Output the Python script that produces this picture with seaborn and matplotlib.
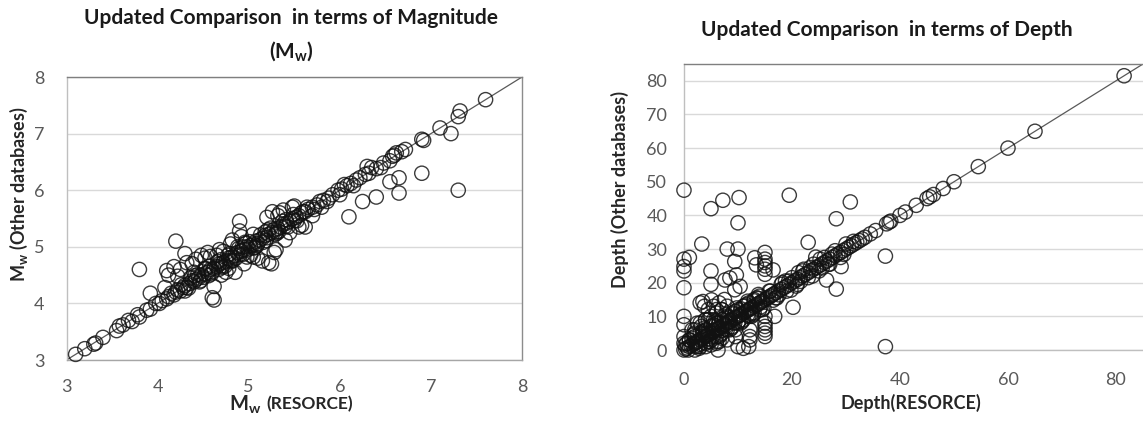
import matplotlib
matplotlib.use("Agg")
import matplotlib.pyplot as plt
import seaborn as sns
import pandas as pd

# ---------------- data: magnitude (Mw) ----------------
mw_resorce = [
    3.10, 3.20, 3.30, 3.32, 3.40, 3.55, 3.58, 3.62, 3.68, 3.72, 3.78, 3.80, 3.88, 3.92,
    3.98, 4.02, 4.05, 4.10, 4.12, 4.15, 4.18, 4.20, 4.22, 4.25, 4.28, 4.30, 4.32, 4.35,
    4.38, 4.40, 4.42, 4.45, 4.48, 4.50, 4.52, 4.55, 4.58, 4.60, 4.62, 4.65, 4.68, 4.70,
    4.72, 4.75, 4.78, 4.80, 4.82, 4.85, 4.88, 4.90, 4.92, 4.95, 4.98, 5.00, 5.02, 5.05,
    5.08, 5.10, 5.12, 5.15, 5.18, 5.20, 5.22, 5.25, 5.28, 5.30, 5.32, 5.35, 5.38, 5.40,
    5.42, 5.45, 5.48, 5.50, 5.52, 5.55, 5.58, 5.62, 5.65, 5.70, 5.75, 5.78, 5.82, 5.88,
    5.92, 5.98, 6.02, 6.08, 6.12, 6.18, 6.22, 6.28, 6.32, 6.40, 6.48, 6.55, 6.60, 6.68,
    6.72, 6.90, 6.92, 7.10, 7.30, 7.32, 7.60,
    3.80, 3.92, 4.08, 4.10, 4.12, 4.18, 4.20, 4.22, 4.25, 4.30, 4.32, 4.38, 4.42, 4.48,
    4.52, 4.55, 4.58, 4.60, 4.62, 4.62, 4.65, 4.68, 4.70, 4.72, 4.75, 4.78, 4.80, 4.82,
    4.85, 4.88, 4.90, 4.90, 4.92, 4.95, 4.98, 5.02, 5.05, 5.10, 5.15, 5.22, 5.25, 5.28,
    5.30, 5.32, 5.20, 5.26, 5.34, 5.40, 5.45, 5.48, 5.60, 5.58, 5.62, 5.70, 5.50, 5.80,
    6.00, 6.10, 6.25, 6.30, 6.40, 6.55, 6.65, 6.65, 6.58, 6.90, 7.22, 7.30, 5.38, 5.55,
    5.05, 4.40,
    4.26, 4.34, 4.41, 4.47, 4.53, 4.59, 4.66, 4.71, 4.77, 4.83, 4.89, 4.94, 5.01, 5.07,
    5.13, 5.19, 5.24, 5.31, 5.37, 5.43, 5.49, 4.30, 4.44, 4.56, 4.69, 4.81, 4.93, 5.06,
    5.18, 5.29, 5.41, 5.53, 5.64, 5.72, 5.86, 6.05, 6.15, 6.35, 6.45, 6.62,
    4.36, 4.46, 4.57, 4.67, 4.79, 4.86, 4.97, 5.09, 5.21, 5.33, 4.52, 4.74, 4.96, 5.16,
]
mw_other = [
    3.10, 3.20, 3.28, 3.30, 3.40, 3.52, 3.60, 3.62, 3.70, 3.68, 3.80, 3.76, 3.88, 3.90,
    4.00, 4.00, 4.05, 4.08, 4.12, 4.18, 4.15, 4.20, 4.24, 4.22, 4.28, 4.32, 4.28, 4.35,
    4.40, 4.38, 4.42, 4.45, 4.50, 4.46, 4.52, 4.55, 4.60, 4.56, 4.62, 4.65, 4.70, 4.66,
    4.72, 4.75, 4.80, 4.76, 4.82, 4.85, 4.90, 4.86, 4.92, 4.95, 5.00, 4.96, 5.02, 5.05,
    5.10, 5.06, 5.12, 5.15, 5.20, 5.16, 5.22, 5.25, 5.30, 5.26, 5.32, 5.35, 5.40, 5.36,
    5.42, 5.45, 5.50, 5.46, 5.52, 5.55, 5.60, 5.62, 5.66, 5.70, 5.74, 5.80, 5.82, 5.86,
    5.92, 6.00, 6.02, 6.08, 6.12, 6.18, 6.22, 6.28, 6.30, 6.38, 6.48, 6.52, 6.62, 6.68,
    6.72, 6.90, 6.88, 7.10, 7.30, 7.40, 7.60,
    4.60, 4.18, 4.28, 4.58, 4.50, 4.65, 5.10, 4.48, 4.60, 4.88, 4.72, 4.70, 4.78, 4.85,
    4.80, 4.90, 4.83, 4.10, 4.06, 4.30, 4.85, 4.95, 4.50, 4.92, 4.55, 4.62, 5.05, 5.12,
    4.55, 5.00, 5.45, 5.28, 5.18, 4.70, 4.82, 4.85, 4.82, 4.80, 4.75, 4.72, 4.70, 4.90,
    4.95, 5.55, 5.52, 5.62, 5.60, 5.12, 5.25, 5.70, 5.62, 5.38, 5.35, 5.55, 5.72, 5.70,
    5.92, 5.53, 5.80, 6.42, 5.88, 6.15, 6.22, 5.95, 6.60, 6.30, 7.00, 6.00, 5.65, 5.35,
    5.22, 4.55,
    4.33, 4.27, 4.49, 4.40, 4.61, 4.52, 4.74, 4.64, 4.85, 4.76, 4.97, 4.87, 5.09, 4.99,
    5.21, 5.11, 5.33, 5.24, 5.45, 5.35, 5.57, 4.22, 4.51, 4.49, 4.77, 4.74, 5.00, 4.98,
    5.26, 5.22, 5.48, 5.46, 5.70, 5.66, 5.80, 6.10, 6.08, 6.40, 6.40, 6.66,
    4.45, 4.38, 4.66, 4.60, 4.88, 4.80, 5.06, 5.02, 5.30, 5.27, 4.62, 4.66, 5.08, 5.08,
]

# ---------------- data: depth ----------------
depth_resorce = [
    0, 0.3, 0.6, 1, 1.3, 1.6, 2, 2.3, 2.6, 3, 3.3, 3.6, 4, 4.3, 4.6, 5, 5.3, 5.6, 6, 6.3,
    6.6, 7, 7.3, 7.6, 8, 8.3, 8.6, 9, 9.3, 9.6, 10, 10.3, 10.6, 11, 11.3, 11.6, 12, 12.3,
    12.6, 13, 13.3, 13.6, 14, 14.3, 14.6, 15, 15.3, 15.6, 16, 16.3, 16.6, 17, 17.5, 18,
    18.5, 19, 19.5, 20, 20.5, 21, 21.5, 22, 22.5, 23, 23.5, 24, 24.5, 25, 25.5, 26, 26.5,
    27, 27.5, 28, 28.5, 29, 29.5, 30, 30.5, 31, 31.5, 32, 32.5, 33, 33.5, 34.5, 35.5,
    37.5, 38, 38.3, 40, 41, 43, 45, 45.5, 46.2, 48, 50, 54.5, 60, 65, 81.5,
    1, 2, 2, 3, 3, 4, 4, 5, 5, 6, 6, 7, 7, 8, 8, 9, 9, 10, 10, 11, 11, 12, 12, 13, 13,
    14, 14, 16, 17, 18, 19, 20, 21, 22, 23, 24, 25, 26, 27, 28, 29, 30,
    0, 5, 7.2, 10.2, 19.5, 30.8, 10, 28.2, 3.3, 23, 0, 0, 0, 1, 0, 0, 0, 0, 0, 8, 10,
    15, 15, 15, 15, 15, 15, 13.1, 13.4, 16.5, 5, 5, 7.6, 8.5, 9.4, 9.7, 9.4, 10.4, 24.4,
    26.4, 28.2, 29.1, 20.2, 37.3, 37.3, 3.5, 5.1, 12.2, 12.2, 15, 15, 15, 15, 15, 15,
    16.8, 6.3, 10, 6, 12.2, 9.5, 9.5, 4, 4.5, 6, 6.5, 3, 3.8, 5.5, 2.5, 7, 8, 11, 12,
    2, 1.5,
    1.5, 2.5, 3.5, 4.5, 5.5, 6.5, 7.5, 8.5, 9.5, 10.5, 11.5, 12.5, 13.5, 14.5, 1.8, 2.8,
    3.8, 4.8, 5.8, 6.8, 7.8, 8.8, 9.8, 10.8, 11.8, 12.8, 13.8, 14.8, 4, 5, 6, 7, 8, 5,
    6, 7, 4.5, 5.5, 6.5, 7.5, 3, 4, 2, 3.2, 15.8, 17.2, 18.8, 20.8, 22.2, 23.8, 25.2,
    26.8, 16.5, 18.2, 19.8, 21.2, 1, 0.5, 0.2, 0.8,
    2.2, 3.4, 4.6, 5.8, 7.0, 8.2, 9.4, 10.6, 11.8, 13.0, 14.2, 2.9, 4.1, 5.3, 6.5, 7.7,
    8.9, 10.1, 11.3, 12.5, 13.7, 17.6, 19.4, 21.6, 23.4, 25.6, 27.4, 29.6, 31.4,
]
depth_other = [
    0, 0.3, 0.6, 1, 1.3, 1.6, 2, 2.3, 2.6, 3, 3.3, 3.6, 4, 4.3, 4.6, 5, 5.3, 5.6, 6, 6.3,
    6.6, 7, 7.3, 7.6, 8, 8.3, 8.6, 9, 9.3, 9.6, 10, 10.3, 10.6, 11, 11.3, 11.6, 12, 12.3,
    12.6, 13, 13.3, 13.6, 14, 14.3, 14.6, 15, 15.3, 15.6, 16, 16.3, 16.6, 17, 17.5, 18,
    18.5, 19, 19.5, 20, 20.5, 21, 21.5, 22, 22.5, 23, 23.5, 24, 24.5, 25, 25.5, 26, 26.5,
    27, 27.5, 28, 28.5, 29, 29.5, 30, 30.5, 31, 31.5, 32, 32.5, 33, 33.5, 34.5, 35.5,
    37.5, 38, 38.3, 40, 41, 43, 45, 45.5, 46.2, 48, 50, 54.5, 60, 65, 81.5,
    3, 0, 4, 1, 5, 2, 6, 3, 7, 4, 8, 5, 9, 6, 10, 7, 11, 8, 12, 9, 13, 10, 14, 11, 15,
    12, 16, 17.5, 15.5, 19.5, 17.5, 21.5, 19.5, 23.5, 21.5, 25.5, 23.5, 27.5, 25.5, 29.5,
    27.5, 31.5,
    47.5, 42, 44.5, 45.3, 46, 44, 37.8, 39, 31.5, 32, 27, 24.8, 23.5, 27.5, 18.5, 10,
    7.5, 4, 2, 30, 30, 29, 27, 26, 25, 24, 22.5, 27.4, 25.3, 23.8, 23.5, 19.5, 20.8,
    21.4, 26.3, 22.3, 17.9, 18.9, 27.6, 20.8, 18.1, 24.8, 12.7, 27.9, 1, 14.4, 14.9, 6,
    4, 10, 8, 7, 6, 5, 4, 10, 0, 1, 2, 3, 4, 6, 1, 9, 12, 2.5, 14, 13, 9, 8, 12, 3,
    0.5, 1, 5, 6,
    3.5, 1, 5.5, 2.5, 7.5, 4, 9.5, 6, 11.5, 8, 13.5, 10, 15.5, 12, 4.5, 0.5, 6.5, 2.5,
    8.5, 4.5, 10.5, 6.5, 12.5, 8.5, 14.5, 10.5, 16.5, 12.5, 9, 10, 11, 12, 13, 1.5, 2.5,
    3.5, 12, 13, 14, 15, 8, 9, 6, 7, 17.5, 15.5, 20.5, 19, 24, 22, 27, 25.5, 14.8, 20,
    17.8, 23, 3, 2, 1.5, 0,
    1.2, 4.6, 3.4, 7.2, 5.8, 9.6, 8.0, 12.2, 10.4, 14.6, 12.8, 1.7, 5.9, 3.9, 8.3, 6.2,
    10.7, 8.5, 13.1, 10.9, 15.3, 16.4, 20.5, 20.4, 24.5, 24.4, 28.5, 28.4, 32.3,
]

mag_ticks = [3, 4, 5, 6, 7, 8]
depth_xticks = [0, 20, 40, 60, 80]
depth_yticks = [0, 10, 20, 30, 40, 50, 60, 70, 80]

df_mag = pd.DataFrame({"resorce": mw_resorce, "other": mw_other})
df_dep = pd.DataFrame({"resorce": depth_resorce, "other": depth_other})

# ---------------- style ----------------
sns.set_style("white")
plt.rcParams["font.family"] = ["Lato", "DejaVu Sans"]
plt.rcParams["mathtext.fontset"] = "custom"
plt.rcParams["mathtext.rm"] = "Lato"
plt.rcParams["mathtext.bf"] = "Lato:bold"

TICK_COLOR = "#595959"
GRID_COLOR = "#d9d9d9"

fig = plt.figure(figsize=(11.43, 4.26), dpi=100)
ax1 = fig.add_axes([0.0582, 0.1549, 0.3985, 0.6643])
ax2 = fig.add_axes([0.5984, 0.1784, 0.4016, 0.6714])

marker_kw = dict(s=105, facecolor="none", edgecolor="#111111", linewidth=1.0, alpha=0.82,
                 marker="o")

for ax, df, lims, xt, yt in [
    (ax1, df_mag, (3, 8), mag_ticks, mag_ticks),
    (ax2, df_dep, (0, 85), depth_xticks, depth_yticks),
]:
    ax.axline((lims[0], lims[0]), (lims[1], lims[1]), color="#595959", lw=0.9, zorder=1)
    sns.scatterplot(data=df, x="resorce", y="other", ax=ax, legend=False, zorder=3,
                    clip_on=False, **marker_kw)
    ax.set_xlim(*lims)
    ax.set_ylim(*lims)
    ax.set_xticks(xt)
    ax.set_yticks(yt)
    ax.set_xlabel("")
    ax.set_ylabel("")
    ax.grid(axis="y", color=GRID_COLOR, lw=1.0, zorder=0)
    ax.grid(axis="x", visible=False)
    ax.set_axisbelow(True)
    ax.tick_params(axis="both", length=0, labelsize=13, labelcolor=TICK_COLOR)
    for side in ["top", "right", "bottom", "left"]:
        ax.spines[side].set_visible(True)
        ax.spines[side].set_linewidth(1.0)
    ax.spines["top"].set_color("#7f7f7f")
    ax.spines["right"].set_color("#8c8c8c")
    ax.spines["bottom"].set_color("#a6a6a6")
    ax.spines["left"].set_color("#bfbfbf")

ax1.tick_params(axis="x", pad=14)
ax1.tick_params(axis="y", pad=16)
ax2.tick_params(axis="x", pad=16)
ax2.tick_params(axis="y", pad=12)
ax2.spines["right"].set_visible(False)
ax2.spines["bottom"].set_color("#bfbfbf")

# titles
fig.text(0.2546, 0.958, "Updated Comparison  in terms of Magnitude", ha="center", va="center",
         fontsize=15, fontweight="bold", color="#1a1a1a")
fig.text(0.2546, 0.878, r"(M$_\mathbf{w}$)", ha="center", va="center",
         fontsize=15, fontweight="bold", color="#1a1a1a")
fig.text(0.776, 0.930, "Updated Comparison  in terms of Depth", ha="center", va="center",
         fontsize=15, fontweight="bold", color="#1a1a1a")

# axis labels
fig.text(19 / 1143, 1 - 194 / 426, r"M$_\mathbf{w}$ (Other databases)", rotation=90,
         ha="center", va="center", fontsize=13, fontweight="bold", color="#262626")
fig.text(261 / 1143, 1 - 405 / 426, r"M$_\mathbf{w}$", ha="right", va="center",
         fontsize=14.5, fontweight="bold", color="#262626")
fig.text(266 / 1143, 1 - 404 / 426, "(RESORCE)", ha="left", va="center",
         fontsize=12.5, fontweight="bold", color="#262626")
fig.text(620 / 1143, 1 - 190 / 426, "Depth (Other databases)", rotation=90,
         ha="center", va="center", fontsize=13, fontweight="bold", color="#262626")
fig.text(911 / 1143, 1 - 403 / 426, "Depth(RESORCE)", ha="center", va="center",
         fontsize=13, fontweight="bold", color="#262626")

fig.savefig("out.png", dpi=100, facecolor="white")
